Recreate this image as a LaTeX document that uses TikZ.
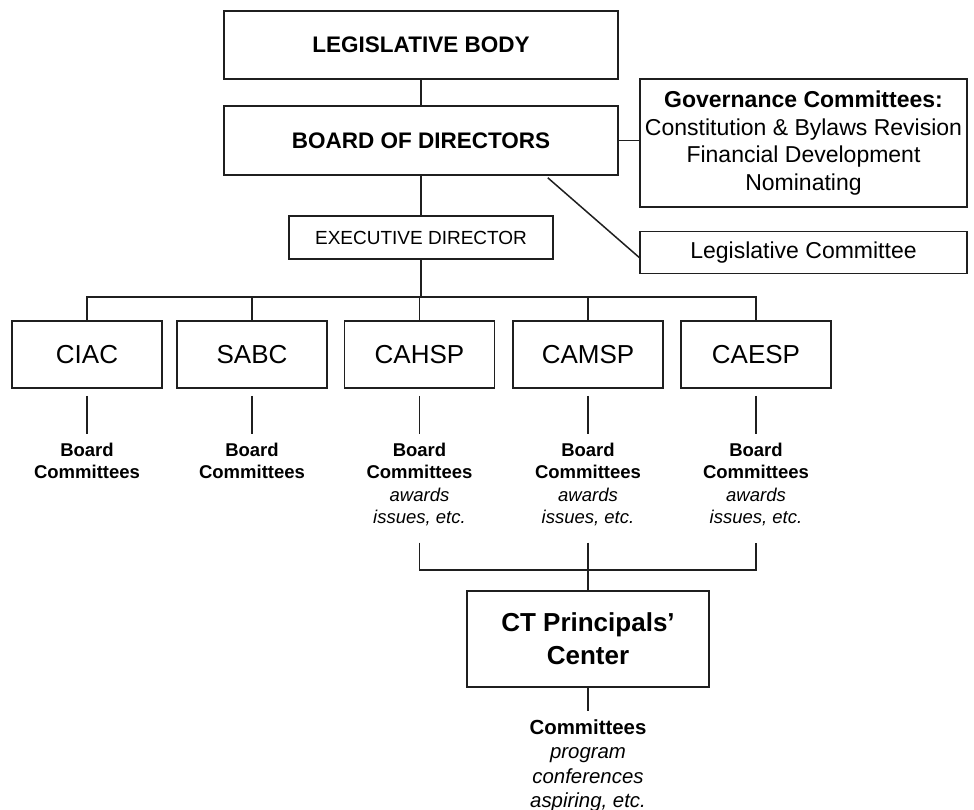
\documentclass[tikz,border=0pt]{standalone}
\usepackage{fontspec}
\setmainfont{Liberation Sans}
\usetikzlibrary{calc}
\definecolor{ink}{gray}{0.12}
\newcommand{\setfs}[2]{\fontsize{#1pt}{#2pt}\selectfont}
\begin{document}
\begin{tikzpicture}[x=1pt,y=-1pt,
  box/.style={draw=ink, line width=1.5pt, inner sep=0pt, align=center, text=black},
  conn/.style={draw=ink, line width=1.5pt},
  unit/.style={box, minimum width=150pt, minimum height=67pt, font=\setfs{26}{31}},
  sub/.style={align=center, inner sep=0pt, anchor=north, font=\setfs{18.5}{22.5}}]
\useasboundingbox (0,0) rectangle (974,810);

% top of the hierarchy
\node[box, minimum width=394pt, minimum height=68pt, font=\bfseries\setfs{22.5}{27}] (LB) at (421,45) {LEGISLATIVE BODY};
\node[box, minimum width=394pt, minimum height=69pt, font=\bfseries\setfs{22.5}{27}] (BoD) at (421,140.5) {BOARD OF DIRECTORS};
\node[box, minimum width=264pt, minimum height=43pt, font=\setfs{19}{23}] (ED) at (421,237.5) {EXECUTIVE DIRECTOR};

% committees beside the board
\node[box, minimum width=327pt, minimum height=128pt, font=\setfs{23}{27.7}] (Gov) at (803.5,143)
  {\textbf{Governance Committees:}\\Constitution \& Bylaws Revision\\Financial Development\\Nominating};
\node[box, minimum width=327pt, minimum height=42pt, font=\setfs{23}{27}] (LC) at (803.5,252.5) {Legislative Committee};

% member organisations
\node[unit] (CIAC)  at (87,354.5)  {CIAC};
\node[unit] (SABC)  at (252,354.5) {SABC};
\node[unit] (CAHSP) at (419.5,354.5) {CAHSP};
\node[unit] (CAMSP) at (588,354.5) {CAMSP};
\node[unit] (CAESP) at (756,354.5) {CAESP};

% their committees
\node[sub] (bc1) at (87,442.5)  {\textbf{Board}\\\textbf{Committees}};
\node[sub] (bc2) at (252,442.5) {\textbf{Board}\\\textbf{Committees}};
\node[sub] (bc3) at (419.5,442.5) {\textbf{Board}\\\textbf{Committees}\\\textit{awards}\\\textit{issues, etc.}};
\node[sub] (bc4) at (588,442.5) {\textbf{Board}\\\textbf{Committees}\\\textit{awards}\\\textit{issues, etc.}};
\node[sub] (bc5) at (756,442.5) {\textbf{Board}\\\textbf{Committees}\\\textit{awards}\\\textit{issues, etc.}};

% principals' center
\node[box, minimum width=242pt, minimum height=96pt, font=\bfseries\setfs{26}{33}] (CT) at (588,639) {CT Principals'\\Center};
\node[sub, font=\setfs{20.4}{24.2}] (ctc) at (588,719.8) {\textbf{Committees}\\\textit{program}\\\textit{conferences}\\\textit{aspiring, etc.}};

% connectors
\coordinate (bus) at (421,297);
\draw[conn] (LB.south) -- (BoD.north);
\draw[conn] (BoD.south) -- (ED.north);
\draw[conn] (BoD.east) -- (BoD.east -| Gov.west);
\draw[conn] ($(BoD.south east)+(-71,2)$) -- ($(LC.west)+(0,5)$);
\draw[conn] (ED.south) -- (bus);
\draw[conn] (CIAC.north) -- (CIAC.north |- bus) -- (CAESP.north |- bus) -- (CAESP.north);
\draw[conn] (SABC.north) -- (SABC.north |- bus);
\draw[conn] (CAHSP.north) -- (CAHSP.north |- bus);
\draw[conn] (CAMSP.north) -- (CAMSP.north |- bus);

\foreach \u/\t in {CIAC/bc1, SABC/bc2, CAHSP/bc3, CAMSP/bc4, CAESP/bc5}
  \draw[conn] ($(\u.south)+(0,7)$) -- ($(\t.north)+(0,-9)$);

% lower bus joining three committees to the center
\coordinate (join) at (588,570);
\coordinate (j3) at ($(bc3.south)+(0,16.5)$);
\coordinate (j4) at ($(bc4.south)+(0,16.5)$);
\coordinate (j5) at ($(bc5.south)+(0,16.5)$);
\draw[conn] (j3) -- (j3 |- join) -- (j5 |- join) -- (j5);
\draw[conn] (j4) -- (CT.north);
\draw[conn] (CT.south) -- ($(ctc.north)+(0,-8.8)$);
\end{tikzpicture}
\end{document}
